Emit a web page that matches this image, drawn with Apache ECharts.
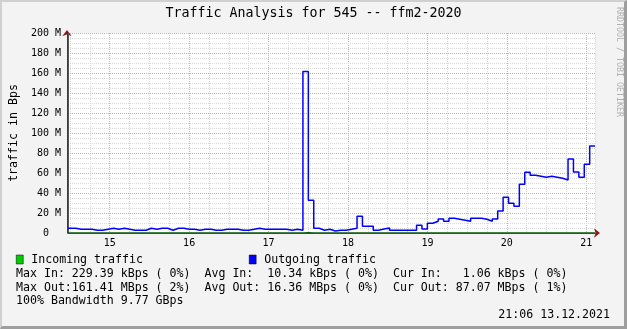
<!DOCTYPE html>
<html><head><meta charset="utf-8">
<script src="https://cdn.jsdelivr.net/npm/echarts@6/dist/echarts.min.js"></script>
<style>
html,body{margin:0;padding:0;background:#f3f3f3;}
#frame{position:absolute;left:0;top:0;width:627px;height:329px;box-sizing:border-box;border-style:solid;border-width:2px 3px 3px 2px;border-color:#d0d0d0 #9e9e9e #9e9e9e #d0d0d0;}
#chart{position:absolute;left:0;top:0;width:627px;height:329px;}
</style></head><body>
<div id="frame"></div><div id="chart"></div>
<script>
// ---- data ----
const titleText = 'Traffic Analysis for 545 -- ffm2-2020';
const seriesNames = ['Incoming traffic', 'Outgoing traffic'];
const hourLabels = [15, 16, 17, 18, 19, 20, 21];
// time axis in hours of day
const tStart = 14.4622, tFirst = 14.4909, tStep = 0.06825, tEnd = 21.11;
// outgoing traffic, MBps per sample
const outgoing = [
  4.7,4.7,3.7,3.7,3.7,2.7,2.7,3.7,4.7,3.7,4.7,3.7,2.7,2.7,2.7,4.7,3.7,4.7,4.7,2.7,4.7,4.7,3.7,3.7,2.7,3.7,3.7,2.7,2.7,3.7,3.7,3.7,
  2.7,2.7,3.7,4.7,3.7,3.7,3.7,3.7,3.7,2.7,3.7,2.7,
  161.4,32.7,4.7,2.7,3.7,2.0,2.7,2.7,3.7,4.7,
  16.7,6.7,6.7,2.7,4.0,5.0,2.7,2.7,2.7,2.7,2.7,
  7.7,4.0,9.7,11.7,14.0,11.7,14.7,13.7,12.7,11.7,14.7,14.7,13.7,11.7,14.0,
  22.0,35.7,29.7,26.7,48.7,60.7,57.7,56.7,55.7,56.7,55.7,54.7,53.0,74.0,61.0,55.7,68.7,86.9
];
// incoming traffic, MBps per sample (kBps range, flat at bottom)
const incoming = [
  0.01,0.01,0.01,0.01,0.01,0.01,0.01,0.01,0.01,0.01,0.01,0.01,0.01,0.01,0.01,0.01,0.01,0.01,0.01,0.01,0.01,0.01,0.01,0.01,0.01,0.01,0.01,0.01,0.01,0.01,0.01,0.01,
  0.01,0.01,0.01,0.01,0.01,0.01,0.01,0.01,0.01,0.01,0.01,0.01,
  0.23,0.05,0.01,0.01,0.01,0.01,0.01,0.01,0.01,0.01,
  0.01,0.01,0.01,0.01,0.01,0.01,0.01,0.01,0.01,0.01,0.01,
  0.01,0.01,0.01,0.01,0.01,0.01,0.01,0.01,0.01,0.01,0.01,0.01,0.01,0.01,0.01,
  0.01,0.01,0.01,0.01,0.01,0.01,0.01,0.01,0.01,0.01,0.01,0.01,0.01,0.01,0.01,0.01,0.01,0.001
];
const statLines = [
  'Max In: 229.39 kBps ( 0%)  Avg In:  10.34 kBps ( 0%)  Cur In:   1.06 kBps ( 0%)',
  'Max Out:161.41 MBps ( 2%)  Avg Out: 16.36 MBps ( 0%)  Cur Out: 87.07 MBps ( 1%)',
  '100% Bandwidth 9.77 GBps'
];
const stampText = '21:06 13.12.2021';
const watermark = 'RRDTOOL / TOBI OETIKER';

// ---- build ----
function sampleTime(i){ return i === 0 ? tStart : tFirst + (i - 1) * tStep; }
function pts(arr){
  const p = arr.map((v, i) => [sampleTime(i), v]);
  p.push([tEnd, arr[arr.length - 1]]);
  return p;
}
const MONO = '"DejaVu Sans Mono", monospace';
const GREY = '#d9d9d9', RED = '#efa0a0';
const chart = echarts.init(document.getElementById('chart'));
const txt = (size) => ({fontFamily: MONO, fontSize: size, fontWeight: 'normal', color: '#000'});
chart.setOption({
  backgroundColor: 'transparent',
  animation: false,
  title: [
    {text: titleText, left: 'center', top: 6, padding: 0, textStyle: Object.assign(txt(13.3), {lineHeight: 16})},
    {text: statLines[0], left: 16, top: 266.5, padding: 0, textStyle: Object.assign(txt(11.6), {lineHeight: 14})},
    {text: statLines[1], left: 16, top: 280.8, padding: 0, textStyle: Object.assign(txt(11.6), {lineHeight: 14})},
    {text: statLines[2], left: 16, top: 294.2, padding: 0, textStyle: Object.assign(txt(11.6), {lineHeight: 14})},
    {text: stampText, right: 17, top: 308.2, padding: 0, textStyle: Object.assign(txt(11.6), {lineHeight: 14})}
  ],
  legend: {
    left: 16, top: 252.5, padding: 0, itemGap: 106, itemWidth: 7, itemHeight: 9,
    icon: 'rect', selectedMode: false,
    textStyle: Object.assign(txt(11.6), {padding: [0, 0, 0, 3], lineHeight: 14}),
    data: [
      {name: seriesNames[0], itemStyle: {color: '#00cc00', borderColor: '#000', borderWidth: 0.5}, lineStyle: {width: 0, opacity: 0}},
      {name: seriesNames[1], itemStyle: {color: '#0000ff', borderColor: '#000', borderWidth: 0.5}, lineStyle: {width: 0, opacity: 0}}
    ]
  },
  grid: [
    {left: 67, right: 32, top: 33, bottom: 96, show: true, backgroundColor: '#ffffff', borderWidth: 0},
    {left: 70, right: 32, top: 33, bottom: 96, show: false}
  ],
  xAxis: [
    {gridIndex: 0, type: 'value', min: tStart, max: tEnd, z: 3,
     axisLine: {show: true, onZero: false, lineStyle: {color: '#555', width: 1}},
     axisTick: {show: false}, axisLabel: {show: false}, splitLine: {show: false}},
    {gridIndex: 1, type: 'value', min: 14.5, max: tEnd, interval: 0.25, z: 1,
     axisLine: {show: true, onZero: false, symbol: ['none', 'arrow'], symbolSize: [7, 6], symbolOffset: [0, 5], lineStyle: {color: '#8b1a1a', width: 1}},
     axisTick: {show: false},
     axisLabel: {margin: 5, fontFamily: MONO, fontSize: 10, color: '#000',
       formatter: v => { const r = Math.round(v); return (Math.abs(v - r) < 1e-6 && hourLabels.indexOf(r) >= 0) ? String(r) : ''; }},
     splitLine: {show: true, lineStyle: {color: [GREY, GREY, RED, GREY], type: [1, 1], width: 1}}}
  ],
  yAxis: [
    {gridIndex: 0, type: 'value', min: 0, max: 200, interval: 5, z: 3,
     name: 'traffic in Bps', nameLocation: 'middle', nameGap: 48,
     nameTextStyle: txt(11.6),
     axisLine: {show: true, lineStyle: {color: '#555', width: 1}},
     axisTick: {show: false},
     axisLabel: {margin: 7, fontFamily: MONO, fontSize: 10, color: '#000',
       formatter: v => (v % 20 === 0) ? (v === 0 ? '0  ' : v + ' M') : ''},
     splitLine: {show: true, lineStyle: {color: [RED, GREY, GREY, GREY], type: [1, 1], width: 1}}},
    {gridIndex: 1, type: 'value', min: 0, max: 200, offset: 3, z: 1,
     axisLine: {show: true, symbol: ['none', 'arrow'], symbolSize: [7, 6], symbolOffset: [0, 3], lineStyle: {color: '#8b1a1a', width: 1}},
     axisTick: {show: false}, axisLabel: {show: false}, splitLine: {show: false}}
  ],
  graphic: [
    {type: 'text', x: 619, y: 62, rotation: -Math.PI / 2, silent: true,
     style: {text: watermark, fill: '#b0b0b0', font: '8.3px "DejaVu Sans Mono", monospace', align: 'center', verticalAlign: 'middle'}}
  ],
  series: [
    {name: seriesNames[0], type: 'line', xAxisIndex: 0, yAxisIndex: 0, step: 'end', data: pts(incoming),
     symbol: 'none', z: 5, lineStyle: {color: '#0a5a0a', width: 1.5}, itemStyle: {color: '#00cc00'}},
    {name: seriesNames[1], type: 'line', xAxisIndex: 0, yAxisIndex: 0, step: 'end', data: pts(outgoing),
     symbol: 'none', z: 6, lineStyle: {color: '#0000ff', width: 1.5}, itemStyle: {color: '#0000ff'}}
  ]
});
</script>
</body></html>
